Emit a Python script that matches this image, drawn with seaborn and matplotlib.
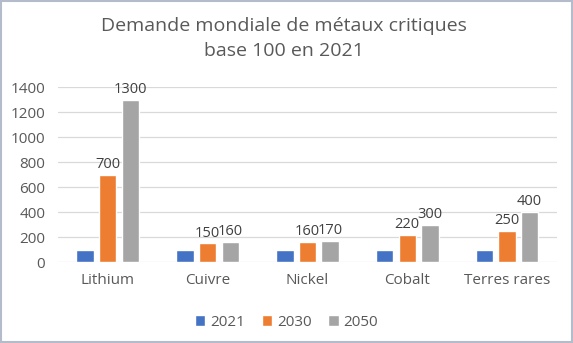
import matplotlib
matplotlib.use("Agg")
import matplotlib.pyplot as plt
import seaborn as sns
import pandas as pd
from matplotlib.patches import Rectangle

categories = ["Lithium", "Cuivre", "Nickel", "Cobalt", "Terres rares"]
years = ["2021", "2030", "2050"]
v2021 = [100, 100, 100, 100, 100]
v2030 = [700, 150, 160, 220, 250]
v2050 = [1300, 160, 170, 300, 400]
colors = ["#4472C4", "#ED7D31", "#A5A5A5"]

rows = []
for y, vals in zip(years, [v2021, v2030, v2050]):
    for c, v in zip(categories, vals):
        rows.append({"cat": c, "year": y, "val": v})
df = pd.DataFrame(rows)

sns.set_theme(style="white")
plt.rcParams["font.family"] = ["Open Sans", "DejaVu Sans"]
txt = "#595959"

fig = plt.figure(figsize=(5.73, 3.43), dpi=100)
ax = fig.add_axes([0.101, 0.236, 0.871, 0.510])
sns.barplot(data=df, x="cat", y="val", hue="year", palette=colors,
            width=0.68, ax=ax, legend=True, saturation=1)

for p in ax.patches:
    w = p.get_width()
    if w > 0 and p.get_height() > 0:
        nw = w * 0.77
        p.set_x(p.get_x() + (w - nw) / 2)
        p.set_width(nw)

for i, cont in enumerate(ax.containers):
    if i == 0:
        continue
    ax.bar_label(cont, fmt="%d", padding=2, fontsize=10.5, color="#404040")

ax.set_ylim(0, 1400)
ax.set_yticks(range(0, 1401, 200))
ax.yaxis.grid(True, color="#d9d9d9", linewidth=0.9)
ax.set_axisbelow(True)
for s in ax.spines.values():
    s.set_visible(False)
ax.set_xlabel("")
ax.set_ylabel("")
ax.tick_params(axis="both", length=0, labelsize=11, colors=txt)
ax.tick_params(axis="x", pad=8)
ax.tick_params(axis="y", pad=9)

h, l = ax.get_legend_handles_labels()
ax.legend_.remove()
fig.legend(h, l, loc="center", bbox_to_anchor=(0.5, 0.06), ncol=3, frameon=False,
           fontsize=11, labelcolor=txt, handlelength=0.7, handleheight=0.7,
           handletextpad=0.3, columnspacing=1.1)

fig.text(0.495, 0.925, "Demande mondiale de métaux critiques", ha="center", va="center",
         fontsize=14, color=txt)
fig.text(0.495, 0.85, "base 100 en 2021", ha="center", va="center",
         fontsize=14, color=txt)

fig.patches.append(Rectangle((0.002, 0.003), 0.996, 0.994, transform=fig.transFigure,
                             fill=False, edgecolor="#b4bccb", linewidth=1.5))

fig.savefig("out.png", dpi=100)
